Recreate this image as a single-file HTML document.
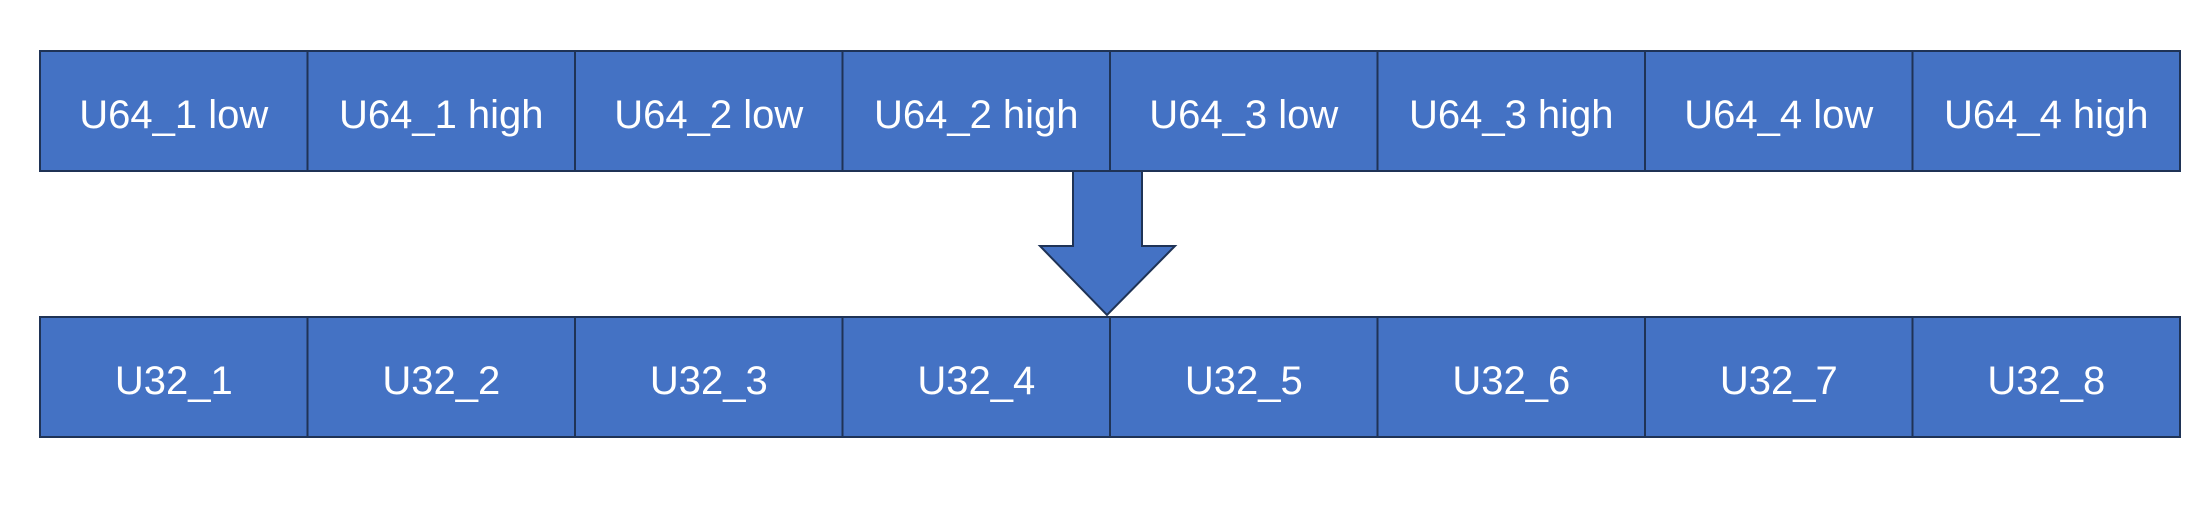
<!DOCTYPE html>
<html><head><meta charset="utf-8"><style>
html,body{margin:0;padding:0;background:#fff;width:2202px;height:519px;overflow:hidden}
svg text{font-family:"Liberation Sans","Noto Sans CJK SC",sans-serif;font-size:40px;fill:#fff;text-anchor:middle;dominant-baseline:central}
</style></head><body>
<svg id="d" width="2202" height="519" viewBox="0 0 2202 519" xmlns="http://www.w3.org/2000/svg">
<polygon points="1073,171 1142,171 1142,246 1175,246 1107,315 1040,246 1073,246" fill="#4472C4" stroke="#1F3356" stroke-width="2"/>
</svg>
<script>
const topLabels=["U64_1 low","U64_1 high","U64_2 low","U64_2 high","U64_3 low","U64_3 high","U64_4 low","U64_4 high"];
const bottomLabels=["U32_1","U32_2","U32_3","U32_4","U32_5","U32_6","U32_7","U32_8"];
const svg=document.getElementById('d');
const NS='http://www.w3.org/2000/svg';
const x0=40,cw=267.5;
function row(labels,y,h,prefix){
  labels.forEach((t,i)=>{
    const r=document.createElementNS(NS,'rect');
    r.setAttribute('x',x0+i*cw);r.setAttribute('y',y);r.setAttribute('width',cw);r.setAttribute('height',h);
    r.setAttribute('fill','#4472C4');r.setAttribute('stroke','#1F3356');r.setAttribute('stroke-width','2');
    
    
    svg.insertBefore(r,svg.firstChild);
    const tx=document.createElementNS(NS,'text');
    tx.setAttribute('x',x0+i*cw+cw/2);tx.setAttribute('y',y+h/2+4);
    tx.textContent=t;
    
    
    svg.appendChild(tx);
  });
}
row(topLabels,51,120,'u64');
row(bottomLabels,317,120,'u32');
</script>
</body></html>
